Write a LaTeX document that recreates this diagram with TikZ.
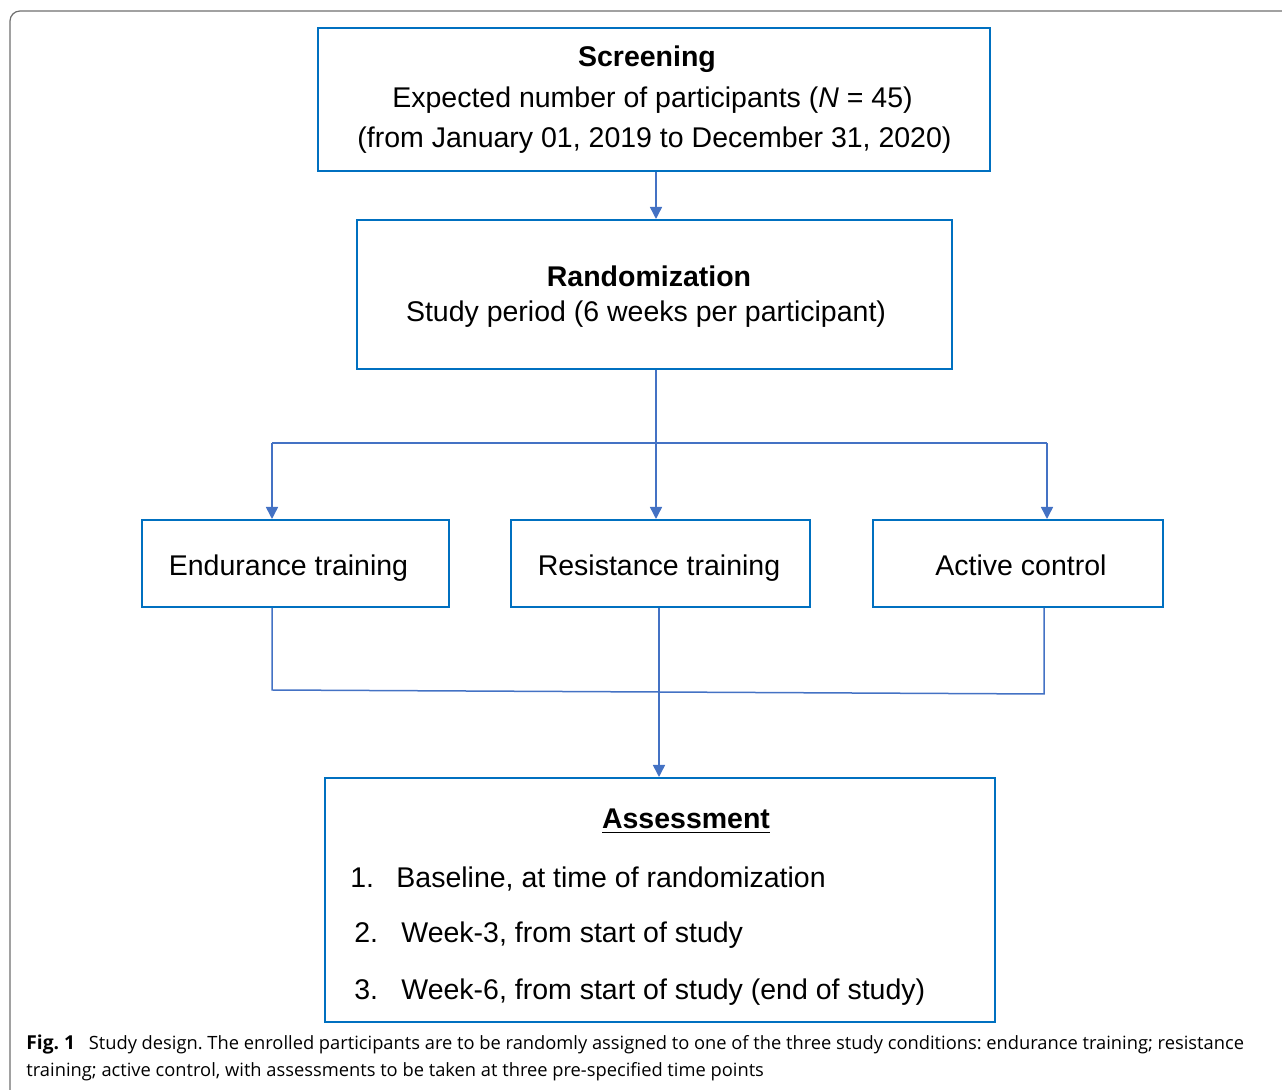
\documentclass[tikz,border=0pt]{standalone}
\usepackage{fontspec}
\setmainfont{Liberation Sans}
\newfontfamily\capfont{Open Sans}
\usetikzlibrary{positioning, calc, arrows.meta}
\definecolor{boxblue}{HTML}{0070C0}
\definecolor{lineblue}{HTML}{4472C4}
\definecolor{framegray}{HTML}{6E6E6E}
\frenchspacing

\begin{document}
\begin{tikzpicture}[x=0.5pt, y=-0.5pt, font=\fontsize{14.25}{20}\selectfont,
		blk/.style={draw=boxblue, line width=1pt, inner sep=0pt},
		txt/.style={anchor=base, inner sep=0pt},
		item/.style={anchor=base west, inner sep=0pt},
		conn/.style={draw=lineblue, line width=0.75pt},
		arr/.style={conn, -{Triangle[width=6pt, length=6pt]}},
		captxt/.style={anchor=base west, inner sep=0pt, font=\capfont\fontsize{9.15}{13}\selectfont}]
		\useasboundingbox (0,0) rectangle (1282,1090);
		\draw[framegray, line width=0.6pt, rounded corners=5pt] (10,1090) -- (10,11) -- (1282,11);
		% boxes
		\node[blk, minimum width=336pt, minimum height=71.5pt] (screen) at (654,99.5) {};
		\node[blk, minimum width=297.5pt, minimum height=74.5pt] (random) at (654.5,294.5) {};
		\node[blk, minimum width=153.5pt, minimum height=43.5pt] (endur) at (295.5,563.5) {};
		\node[blk, minimum width=149.5pt, minimum height=43.5pt] (resist) at (660.5,563.5) {};
		\node[blk, minimum width=145pt, minimum height=43.5pt] (active) at (1018,563.5) {};
		\node[blk, minimum width=335pt, minimum height=122pt] (assess) at (660,900) {};
		% texts
		\node[txt] (screenA) at (647,67) {\textbf{Screening}};
		\node[txt] (screenB) at (652.5,108) {Expected number of participants (\textit{N} = 45)};
		\node[txt] (screenC) at (654.5,148) {(from January 01, 2019 to December 31, 2020)};
		\node[txt] (randomA) at (649,286.5) {\textbf{Randomization}};
		\node[txt] (randomB) at (646,322) {Study period (6 weeks per participant)};
		\node[txt] (endurA) at (288.5,576) {Endurance training};
		\node[txt] (resistA) at (659,576) {Resistance training};
		\node[txt] (activeA) at (1021,576) {Active control};
		\node[txt, font=\fontsize{14.25}{16}\selectfont\bfseries] (assessA) at (686,829) {\underline{Assessment}};
		\node[item] (n1) at (350,888) {1.}; \node[item] (t1) at (396,888) {Baseline, at time of randomization};
		\node[item] (n2) at (354,943) {2.}; \node[item] (t2) at (401,943) {Week-3, from start of study};
		\node[item] (n3) at (354,1000) {3.}; \node[item] (t3) at (401,1000) {Week-6, from start of study (end of study)};
		% connectors
		\coordinate (splitL) at (272,443); \coordinate (splitR) at (1047,443);
		\coordinate (joinL) at (272,690); \coordinate (joinR) at (1044,694);
		\draw[arr] (screen.south -| 656,0) -- (random.north -| 656,0);
		\draw[arr] (random.south -| 656,0) -- (resist.north -| 656,0);
		\draw[conn] (splitL) -- (splitR);
		\draw[arr] (splitL) -- (splitL |- endur.north);
		\draw[arr] (splitR) -- (splitR |- active.north);
		\draw[conn] (joinL |- endur.south) -- (joinL) -- (joinR) -- (joinR |- active.south);
		\draw[arr] (resist.south -| 659,0) -- (assess.north -| 659,0);
		% caption
		\node[captxt] (cap1) at (26,1050) {\textbf{\fontsize{9.6}{13}\selectfont Fig.~1}\hspace{0.75em}Study design. The enrolled participants are to be randomly assigned to one of the three study conditions: endurance training; resistance};
		\node[captxt] (cap2) at (26,1077) {training; active control, with assessments to be taken at three pre-specified time points};
	\end{tikzpicture}
\end{document}
